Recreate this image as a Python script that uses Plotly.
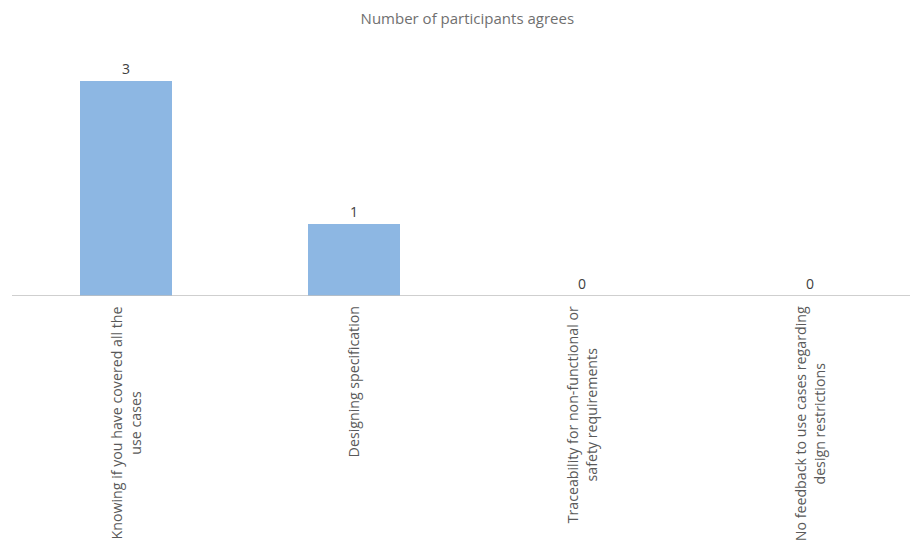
import plotly.graph_objects as go

categories = [
    "Knowing if you have covered all the<br>use cases",
    "Designing specification",
    "Traceability for non-functional or<br>safety requirements",
    "No feedback to use cases regarding<br>design restrictions",
]
values = [3, 1, 0, 0]
title_text = "Number of participants agrees"

FONT = "Open Sans, sans-serif"
xs = list(range(len(categories)))

fig = go.Figure()
fig.add_trace(go.Bar(
    x=xs, y=values, width=0.404,
    marker=dict(color="#8DB7E3", line=dict(width=0)),
    text=[str(v) for v in values], textposition="outside",
    textfont=dict(family=FONT, size=14, color="#404040"),
    cliponaxis=False,
))

for i, c in enumerate(categories):
    fig.add_annotation(
        x=i, y=0, xref="x", yref="y", text=c, textangle=-90,
        showarrow=False, align="center", yanchor="top", xanchor="center",
        yshift=-8, font=dict(family=FONT, size=14.2, color="#595959"),
    )

fig.update_layout(
    width=911, height=545,
    margin=dict(l=12, r=1, t=45, b=249),
    paper_bgcolor="white", plot_bgcolor="white",
    showlegend=False,
    title=dict(text=title_text, x=0.513, xanchor="center", y=0.965, yanchor="middle",
               font=dict(family=FONT, size=15, color="#707070")),
    xaxis=dict(range=[-0.5, 3.44], showticklabels=False, showgrid=False,
               zeroline=False, showline=False, ticks=""),
    yaxis=dict(range=[0, 3.5], visible=False, showgrid=False, zeroline=False),
    bargap=0,
)
fig.add_shape(type="line", xref="paper", yref="y", x0=0, x1=1, y0=0, y1=0,
              line=dict(color="#BFBFBF", width=1.3))

fig.write_html("out.html")
